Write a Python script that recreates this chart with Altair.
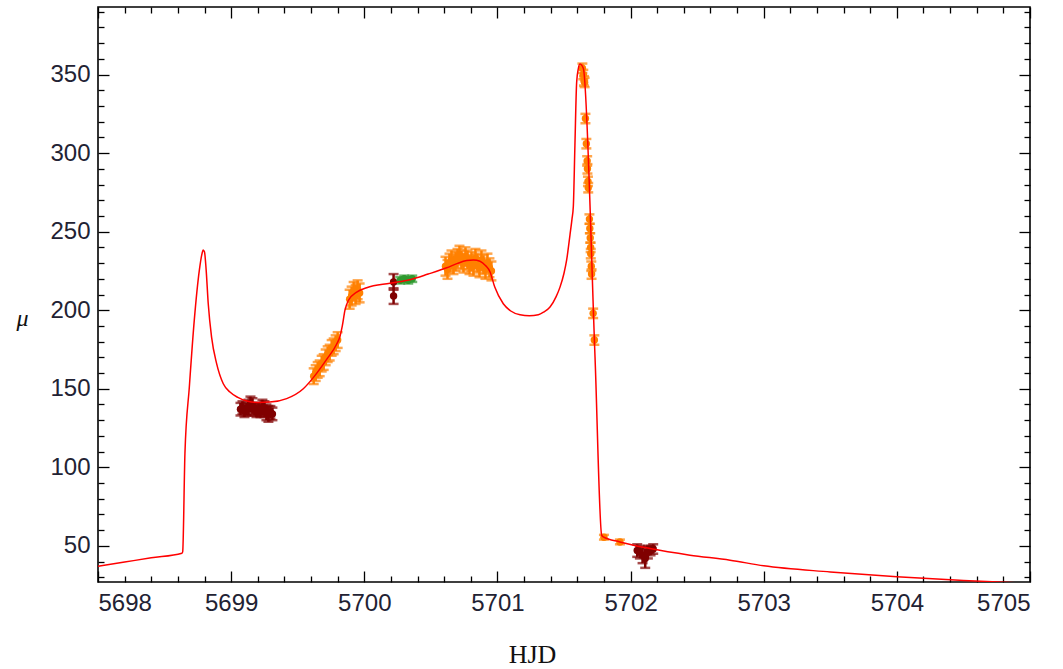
import altair as alt
import pandas as pd

# ---- model light curve ----
curve_x = [5698.00, 5698.20, 5698.40, 5698.63, 5698.636, 5698.653, 5698.686, 5698.723, 5698.761, 5698.780,
           5698.790, 5698.800, 5698.812, 5698.828, 5698.853, 5698.891, 5698.941, 5698.991,
           5699.05, 5699.117, 5699.20, 5699.29, 5699.417, 5699.542, 5699.62, 5699.72,
           5699.79, 5699.818, 5699.835, 5699.855, 5699.880, 5699.943, 5700.018, 5700.193,
           5700.343, 5700.48, 5700.619, 5700.70, 5700.769, 5700.82, 5700.869, 5700.91,
           5700.944, 5700.98, 5701.044, 5701.10, 5701.17, 5701.24, 5701.307, 5701.35,
           5701.395, 5701.44, 5701.47, 5701.50, 5701.52, 5701.545, 5701.56, 5701.57,
           5701.582, 5701.595, 5701.608, 5701.62, 5701.645, 5701.733, 5701.783, 5701.795,
           5701.92, 5702.146, 5702.446, 5702.747, 5703.0, 5703.5, 5704.0, 5704.5, 5705.0]
curve_y = [37.0, 39.7, 42.4, 45.3, 46.2, 108.9, 151.1, 193.5, 225.3, 235.5,
           238.4, 237.0, 226.0, 204.1, 182.9, 166.0, 153.2, 147.9,
           144.5, 142.2, 141.3, 141.5, 143.7, 150.0, 157.4, 169.0,
           178.0, 183.5, 190.0, 200.0, 206.2, 211.5, 214.3, 217.2,
           219.4, 223.0, 227.0, 229.8, 231.6, 232.0, 231.2, 228.5,
           224.5, 214.7, 204.1, 199.5, 197.1, 196.5, 197.1, 199.0,
           202.0, 208.5, 214.7, 223.5, 232.0, 248.0, 258.0, 266.0,
           305.0, 345.0, 354.0, 356.7, 354.0, 170.2, 56.8, 55.7,
           52.5, 48.3, 44.1, 40.9, 37.3, 33.4, 30.3, 28.0, 26.1]

# ---- observations ----
orange_x = [5699.62, 5699.635, 5699.65, 5699.665, 5699.68, 5699.695, 5699.71, 5699.725,
            5699.74, 5699.755, 5699.77, 5699.785, 5699.80,
            5699.89, 5699.905, 5699.92, 5699.935, 5699.95, 5699.965,
            5700.61, 5700.625, 5700.64, 5700.655, 5700.67, 5700.685, 5700.70, 5700.715,
            5700.73, 5700.745, 5700.76, 5700.775, 5700.79, 5700.805, 5700.82, 5700.835,
            5700.85, 5700.865, 5700.88, 5700.895, 5700.91, 5700.925, 5700.94, 5700.955,
            5701.638, 5701.645, 5701.650, 5701.655, 5701.661, 5701.668, 5701.674, 5701.676,
            5701.680, 5701.682, 5701.691, 5701.694, 5701.697, 5701.700, 5701.701, 5701.705,
            5701.707, 5701.719, 5701.728,
            5701.80, 5701.92]
orange_y = [158, 160, 162, 163, 166, 167, 170, 172,
            173, 176, 177, 179, 181,
            207, 209, 212, 210, 213, 211,
            228, 226, 230, 232, 229, 231, 233, 235,
            232, 230, 234, 232, 229, 231, 228, 233,
            230, 227, 232, 229, 226, 230, 227, 225,
            354, 350, 346, 345, 322, 306, 295, 290,
            282, 278, 258, 252, 246, 240, 236, 228,
            223, 198, 181,
            55.5, 52.5]
orange_err = [5, 5, 5, 5, 5, 5, 5, 5,
              5, 5, 5, 5, 5,
              6, 6, 6, 6, 6, 6,
              6, 6, 6, 6, 6, 6, 6, 6,
              6, 6, 6, 6, 6, 6, 6, 6,
              6, 6, 6, 6, 6, 6, 6, 6,
              3, 3, 3, 3, 3, 3, 3, 3,
              3, 3, 3, 3, 3, 3, 3, 3,
              3, 3, 3,
              1.5, 1.5]

darkred_x = [5699.07, 5699.085, 5699.10, 5699.115, 5699.13, 5699.145, 5699.16, 5699.175,
             5699.19, 5699.205, 5699.22, 5699.235, 5699.25, 5699.265, 5699.28, 5699.295, 5699.31,
             5700.22, 5700.22,
             5702.05, 5702.07, 5702.09, 5702.11, 5702.13, 5702.15, 5702.17]
darkred_y = [137, 138, 136, 137, 138, 140, 139, 137,
             136, 137, 136, 138, 137, 135, 134, 135, 134,
             218, 209,
             47, 46, 44, 42, 46, 47, 48]
darkred_err = [4, 4, 4, 4, 5, 5, 5, 4,
               4, 4, 4, 5, 5, 5, 5, 4, 4,
               5, 5,
               4, 4, 5, 6, 4, 3, 3]

green_x = [5700.27, 5700.30, 5700.33, 5700.36]
green_y = [219, 220, 219, 220]
green_err = [2, 2, 2, 2]

# ---- axis ticks ----
x_major = [5698, 5699, 5700, 5701, 5702, 5703, 5704, 5705]
x_minor = [round(5698 + 0.2 * i, 1) for i in range(36) if i % 5]
y_major = [50, 100, 150, 200, 250, 300, 350]
y_minor = [v for v in range(30, 391, 10) if v % 50]

W, H = 932, 575
xs = alt.Scale(domain=[5698, 5705], nice=False, zero=False)
ys = alt.Scale(domain=[27, 393], nice=False, zero=False)

curve = pd.DataFrame({"x": curve_x, "y": curve_y})

rows = []
for grp, xv, yv, ev in (("orange", orange_x, orange_y, orange_err),
                        ("darkred", darkred_x, darkred_y, darkred_err),
                        ("green", green_x, green_y, green_err)):
    for a, b, e in zip(xv, yv, ev):
        rows.append({"x": a, "y": b, "lo": b - e, "hi": b + e, "group": grp})
obs = pd.DataFrame(rows)

col = alt.Color("group:N", scale=alt.Scale(domain=["orange", "darkred", "green"],
                                           range=["#FF8000", "#800000", "#2E9A2E"]),
                legend=None)

bars = alt.Chart(obs).mark_rule(strokeWidth=2.5).encode(
    x=alt.X("x:Q", scale=xs, axis=None),
    y=alt.Y("lo:Q", scale=ys, axis=None),
    y2="hi:Q",
    color=col,
)
cap_lo = alt.Chart(obs).mark_tick(orient="horizontal", size=10, thickness=2.5).encode(
    x=alt.X("x:Q", scale=xs, axis=None),
    y=alt.Y("lo:Q", scale=ys, axis=None),
    color=col,
)
cap_hi = alt.Chart(obs).mark_tick(orient="horizontal", size=10, thickness=2.5).encode(
    x=alt.X("x:Q", scale=xs, axis=None),
    y=alt.Y("hi:Q", scale=ys, axis=None),
    color=col,
)
pts = alt.Chart(obs).mark_circle(size=55, opacity=1).encode(
    x=alt.X("x:Q", scale=xs, axis=None),
    y=alt.Y("y:Q", scale=ys, axis=None),
    color=col,
)

label_font = "Liberation Sans"
line = alt.Chart(curve).mark_line(color="#FF0000", strokeWidth=1.5, clip=True,
                                  interpolate="monotone").encode(
    x=alt.X("x:Q", scale=xs, axis=alt.Axis(
        orient="bottom", values=x_major, format="d", ticks=False, domain=False, grid=False,
        labelFont=label_font, labelFontSize=24, labelColor="#222233", labelPadding=9,
        title="HJD", titleFont="Liberation Serif", titleFontSize=26, titleFontWeight="normal",
        titleColor="#111111", titleX=434, titleY=72, titleBaseline="middle")),
    y=alt.Y("y:Q", scale=ys, axis=alt.Axis(
        orient="left", values=y_major, format="d", ticks=False, domain=False, grid=False,
        labelFont=label_font, labelFontSize=24, labelColor="#222233", labelPadding=8,
        title="μ", titleFont="Liberation Serif", titleFontSize=24, titleFontStyle="italic",
        titleFontWeight="normal", titleColor="#111111", titleX=-76, titleY=311,
        titleAngle=0, titleBaseline="middle", titleAlign="center")),
)


def tick_layer(channel, orient, values, size):
    ax = alt.Axis(orient=orient, offset=-(H if channel == "x" else W), values=values,
                  tickSize=size, tickWidth=1.3, tickColor="black", ticks=True,
                  labels=False, domain=False, grid=False, title=None)
    base = alt.Chart(curve).mark_point(opacity=0)
    if channel == "x":
        return base.encode(x=alt.X("x:Q", scale=xs, axis=ax),
                           y=alt.Y("y:Q", scale=ys, axis=None))
    return base.encode(x=alt.X("x:Q", scale=xs, axis=None),
                       y=alt.Y("y:Q", scale=ys, axis=ax))


tick_layers = []
for ch, orients, major, minor in (("x", ("top", "bottom"), x_major, x_minor),
                                  ("y", ("right", "left"), y_major, y_minor)):
    for o in orients:
        tick_layers.append(tick_layer(ch, o, major, 11))
        tick_layers.append(tick_layer(ch, o, minor, 6))

chart = alt.layer(bars, cap_lo, cap_hi, pts, line, *tick_layers).resolve_axis(
    x="independent", y="independent"
).properties(
    width=W, height=H,
    padding={"left": 98, "top": 7, "right": 33, "bottom": 87},
    autosize=alt.AutoSizeParams(type="none"),
    background="white",
).configure_view(stroke="black", strokeWidth=1.6)

chart.save("out.html", embed_options={"renderer": "svg", "actions": False})
